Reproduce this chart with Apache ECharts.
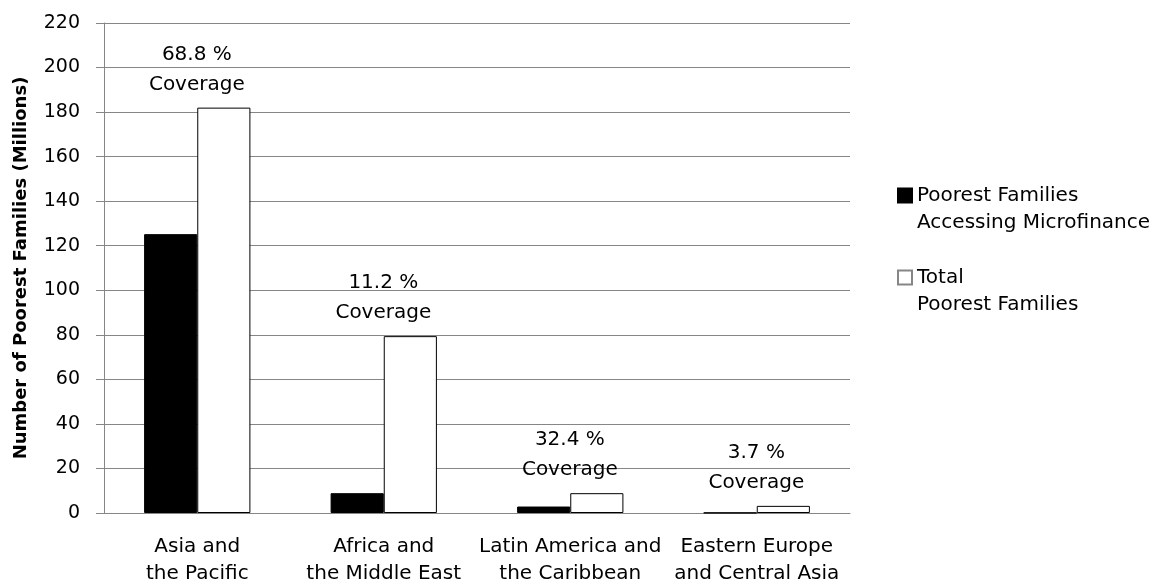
<!DOCTYPE html>
<html>
<head>
<meta charset="utf-8">
<script src="https://cdn.jsdelivr.net/npm/echarts@6/dist/echarts.min.js"></script>
<style>
  html, body { margin: 0; padding: 0; background: #fff; }
  #main { width: 1161px; height: 585px; }
</style>
</head>
<body>
<div id="main"></div>
<script>
// 数据
var regions = ['Asia and\nthe Pacific', 'Africa and\nthe Middle East', 'Latin America and\nthe Caribbean', 'Eastern Europe\nand Central Asia'];
var accessing = [125.2, 8.9, 2.9, 0.12];
var totalPoorest = [182, 79.4, 8.9, 3.2];
var coverage = ['68.8 %', '11.2 %', '32.4 %', '3.7 %'];
var yTicks = [0, 20, 40, 60, 80, 100, 120, 140, 160, 180, 200, 220];
var seriesNames = ['Poorest Families\nAccessing Microfinance', 'Total\nPoorest Families'];

var font = '"DejaVu Sans", sans-serif';
var gray = '#868686';
// 图例方块放在上面一行 (M0,41 只用来撑高包围盒)
var legendIcon = 'path://M0,41M0,0L14,0L14,14L0,14Z';

var myChart = echarts.init(document.getElementById('main'));

myChart.setOption({
    animation: false,
    backgroundColor: '#fff',
    textStyle: { fontFamily: font },
    grid: { left: 104, right: 311, top: 23, bottom: 72, containLabel: false, outerBoundsMode: 'none' },
    legend: {
        orient: 'vertical',
        left: 897,
        top: 182,
        padding: 0,
        itemWidth: 14,
        itemHeight: 41,
        itemGap: 28,
        icon: legendIcon,
        textStyle: { fontFamily: font, fontSize: 20, color: '#000', lineHeight: 27 },
        data: [
            { name: seriesNames[0] },
            { name: seriesNames[1], itemStyle: { borderColor: gray } }
        ]
    },
    xAxis: {
        type: 'category',
        data: regions,
        axisLine: { lineStyle: { color: gray, width: 1 } },
        axisTick: { show: false },
        axisLabel: { color: '#000', fontSize: 20, lineHeight: 27, margin: 20, interval: 0, fontFamily: font }
    },
    yAxis: {
        type: 'value',
        min: 0,
        max: yTicks[yTicks.length - 1],
        interval: 20,
        name: 'Number of Poorest Families (Millions)',
        nameLocation: 'middle',
        nameGap: 74,
        nameMoveOverlap: false,
        nameTextStyle: { fontSize: 18, fontWeight: 'bold', color: '#000', fontFamily: font },
        axisLine: { show: true, lineStyle: { color: gray, width: 1 } },
        axisTick: { show: true, length: 8, lineStyle: { color: gray } },
        axisLabel: { color: '#000', fontSize: 19, margin: 24, fontFamily: font },
        splitLine: { lineStyle: { color: gray, width: 1 } }
    },
    series: [
        {
            name: seriesNames[0],
            type: 'bar',
            barGap: 0,
            barCategoryGap: '43%',
            data: accessing,
            itemStyle: { color: '#000', borderColor: '#000', borderWidth: 1 }
        },
        {
            name: seriesNames[1],
            type: 'bar',
            barGap: 0,
            barCategoryGap: '43%',
            data: totalPoorest,
            itemStyle: { color: '#fff', borderColor: '#000', borderWidth: 1 },
            label: {
                show: true,
                position: 'top',
                distance: 8,
                offset: [-27, 0],
                fontSize: 20,
                lineHeight: 30,
                color: '#000',
                fontFamily: font,
                formatter: function (p) {
                    return coverage[p.dataIndex] + '\nCoverage';
                }
            }
        }
    ]
});
</script>
</body>
</html>
